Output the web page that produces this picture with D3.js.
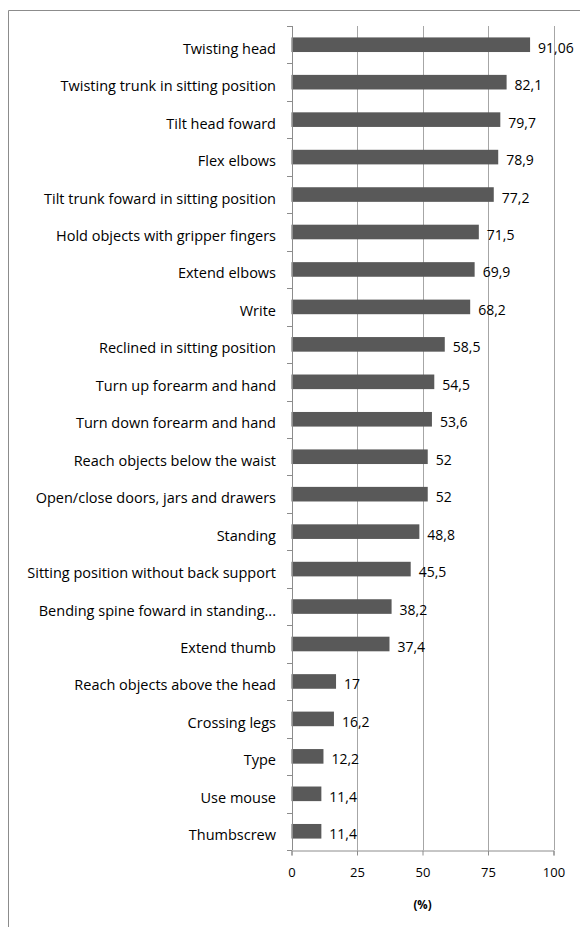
<!DOCTYPE html>
<html>
<head>
<meta charset="utf-8">
<script src="https://cdnjs.cloudflare.com/ajax/libs/d3/7.8.5/d3.min.js"></script>
<style>
body { margin: 0; background: #fff; }
svg text { font-family: "Open Sans", Lato, sans-serif; fill: #000; }
</style>
</head>
<body>
<script>
var width = 580;
var height = 927;

var categories = [
	'Twisting head',
	'Twisting trunk in  sitting position',
	'Tilt head foward',
	'Flex elbows',
	'Tilt trunk foward in sitting position',
	'Hold objects with gripper fingers',
	'Extend elbows',
	'Write',
	'Reclined in sitting position',
	'Turn up forearm and hand',
	'Turn down forearm and hand',
	'Reach objects below the waist',
	'Open/close doors, jars and drawers',
	'Standing',
	'Sitting position without back support',
	'Bending spine foward in standing...',
	'Extend thumb',
	'Reach objects above the head',
	'Crossing legs',
	'Type',
	'Use mouse',
	'Thumbscrew'
];
var values = [91.06, 82.1, 79.7, 78.9, 77.2, 71.5, 69.9, 68.2, 58.5, 54.5, 53.6, 52, 52, 48.8, 45.5, 38.2, 37.4, 17, 16.2, 12.2, 11.4, 11.4];
var valueLabels = ['91,06', '82,1', '79,7', '78,9', '77,2', '71,5', '69,9', '68,2', '58,5', '54,5', '53,6', '52', '52', '48,8', '45,5', '38,2', '37,4', '17', '16,2', '12,2', '11,4', '11,4'];
var xTicks = [0, 25, 50, 75, 100];
var axisTitle = '(%)';

var plotLeft = 291.5, plotRight = 553.5, plotTop = 26, plotBottom = 850;

var svg = d3.select('body').append('svg')
	.attr('width', width)
	.attr('height', height);

// chart frame (cropped at the right and bottom)
svg.append('path')
	.attr('d', 'M8.5,' + height + 'V10.5H' + width)
	.attr('fill', 'none')
	.attr('stroke', '#8c8c8c')
	.attr('stroke-width', 1);

var x = d3.scaleLinear().domain([0, 100]).range([plotLeft, plotRight]);
var y = d3.scaleBand().domain(categories).range([plotTop, plotBottom]).paddingInner(0.61).paddingOuter(0.305);
var step = y.step();

// gridlines
svg.append('g')
	.selectAll('line')
	.data(xTicks.slice(1))
	.enter()
	.append('line')
	.attr('x1', (d) => Math.round(x(d)) + 0.5)
	.attr('x2', (d) => Math.round(x(d)) + 0.5)
	.attr('y1', plotTop)
	.attr('y2', plotBottom)
	.attr('stroke', '#a6a6a6');

// bars
svg.append('g')
	.selectAll('rect')
	.data(values)
	.enter()
	.append('rect')
	.attr('x', x(0))
	.attr('y', (d, i) => y(categories[i]))
	.attr('width', (d) => x(d) - x(0))
	.attr('height', y.bandwidth())
	.attr('fill', '#595959');

// value labels
svg.append('g')
	.selectAll('text')
	.data(values)
	.enter()
	.append('text')
	.attr('x', (d) => x(d) + 8)
	.attr('y', (d, i) => y(categories[i]) + y.bandwidth() / 2 + 8)
	.attr('font-size', 14)
	.text((d, i) => valueLabels[i]);

// y axis with ticks at category boundaries
var yAxis = svg.append('g');
yAxis.append('line')
	.attr('x1', Math.round(plotLeft) + 0.5).attr('x2', Math.round(plotLeft) + 0.5)
	.attr('y1', plotTop).attr('y2', plotBottom)
	.attr('stroke', '#8c8c8c');
yAxis.selectAll('.tk')
	.data(d3.range(categories.length + 1))
	.enter()
	.append('line')
	.attr('x1', Math.round(plotLeft) - 5)
	.attr('x2', Math.round(plotLeft))
	.attr('y1', (i) => Math.round(plotTop + i * step) + 0.5)
	.attr('y2', (i) => Math.round(plotTop + i * step) + 0.5)
	.attr('stroke', '#8c8c8c');
yAxis.selectAll('text')
	.data(categories)
	.enter()
	.append('text')
	.attr('x', 276)
	.attr('y', (d) => y(d) + y.bandwidth() / 2 + 9)
	.attr('text-anchor', 'end')
	.attr('font-size', 14.5)
	.text((d) => d);

// x axis
var xAxis = svg.append('g')
	.attr('transform', 'translate(0,' + (plotBottom + 0.5) + ')')
	.call(d3.axisBottom(x).tickValues(xTicks).tickSize(5).tickPadding(12));
xAxis.select('.domain').attr('stroke', '#8c8c8c');
xAxis.selectAll('.tick line').attr('stroke', '#8c8c8c');
xAxis.selectAll('.tick text').attr('font-size', 13).attr('font-family', '"Open Sans", sans-serif');

svg.append('text')
	.attr('x', x(50))
	.attr('y', 909)
	.attr('text-anchor', 'middle')
	.attr('font-size', 11.5)
	.attr('font-weight', 'bold')
	.text(axisTitle);
</script>
</body>
</html>
